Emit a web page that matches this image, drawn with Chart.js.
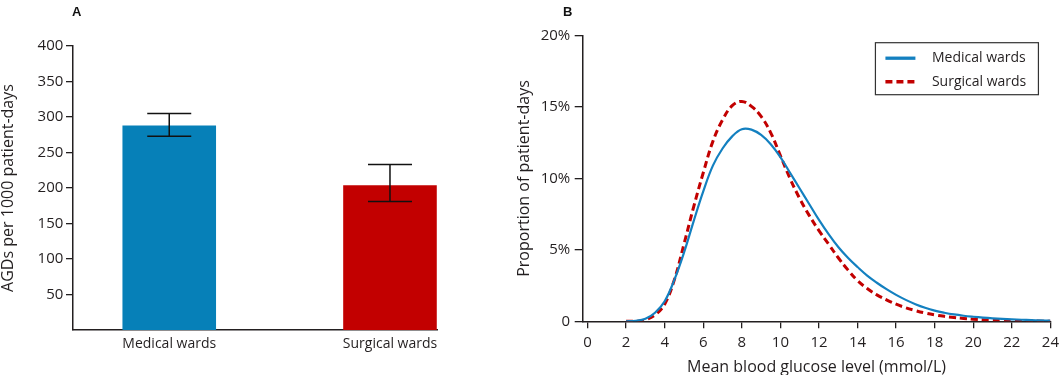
<!DOCTYPE html>
<html>
<head>
<meta charset="utf-8">
<script src="https://cdn.jsdelivr.net/npm/chart.js@4.4.1/dist/chart.umd.min.js"></script>
<style>
  html, body { margin: 0; padding: 0; background: #fff; }
  #wrap { position: relative; width: 1064px; height: 375px; overflow: hidden; }
  canvas { position: absolute; top: 0; }
  #chartA { left: 0; }
  #chartB { left: 470px; }
  .panel { position: absolute; top: 5px; font: bold 13px "Liberation Sans", Arial, sans-serif; line-height: 13px; color: #111; }
</style>
</head>
<body>
<div id="wrap">
  <canvas id="chartA" width="470" height="375"></canvas>
  <canvas id="chartB" width="594" height="375"></canvas>
  <div class="panel" style="left:72px">A</div>
  <div class="panel" style="left:563px">B</div>
</div>
<script>
// Panel A: AGDs per 1000 patient-days with error bars
const wards = ['Medical wards', 'Surgical wards'];
const agdRates = [288, 204];
const agdLower = [273, 181];
const agdUpper = [305, 233];
const yTicksA = [50, 100, 150, 200, 250, 300, 350, 400];

// Panel B: distribution of mean blood glucose (% of patient-days)
const glucose = [2, 2.5, 3, 3.5, 4, 4.5, 5, 5.5, 6, 6.5, 7, 7.5, 8, 8.5, 9, 9.5, 10, 10.5, 11, 11.5,
  12, 12.5, 13, 13.5, 14, 14.5, 15, 15.5, 16, 16.5, 17, 17.5, 18, 18.5, 19, 19.5, 20, 20.5,
  21, 21.5, 22, 22.5, 23, 23.5, 24];
const medicalPct = [0, 0.03, 0.18, 0.6, 1.4, 2.9, 4.8, 7.0, 9.1, 10.9, 12.1, 12.95, 13.45, 13.42, 13.05, 12.4, 11.5, 10.4, 9.3, 8.2,
  7.1, 6.1, 5.2, 4.45, 3.8, 3.2, 2.7, 2.25, 1.85, 1.5, 1.2, 0.95, 0.75, 0.6, 0.48, 0.39, 0.32, 0.26,
  0.21, 0.17, 0.14, 0.11, 0.08, 0.06, 0.05];
const surgicalPct = [0, 0, 0.1, 0.45, 1.2, 2.9, 5.4, 8.0, 10.4, 12.6, 14.1, 15.1, 15.4, 15.05, 14.35, 13.2, 11.6, 10.0, 8.6, 7.4,
  6.35, 5.4, 4.45, 3.6, 2.85, 2.3, 1.85, 1.5, 1.2, 0.95, 0.75, 0.58, 0.45, 0.35, 0.27, 0.2, 0.15, 0.11,
  0.08, 0.06, 0.04, 0.03, 0.02, 0.01, 0];
const xTicksB = [0, 2, 4, 6, 8, 10, 12, 14, 16, 18, 20, 22, 24];
const yTicksB = [0, 5, 10, 15, 20];

const blue = '#0680b8';
const red = '#c20000';
const ink = '#231f20';

Chart.defaults.font.family = "'Open Sans', sans-serif";
Chart.defaults.color = ink;
Chart.defaults.animation = false;

const errorBars = {
  id: 'errorBars',
  afterDatasetsDraw(chart) {
    const { ctx, scales: { x, y } } = chart;
    ctx.save();
    ctx.strokeStyle = '#111';
    ctx.lineWidth = 1.5;
    wards.forEach((w, i) => {
      const cx = x.getPixelForValue(i);
      const top = y.getPixelForValue(agdUpper[i]);
      const bot = y.getPixelForValue(agdLower[i]);
      ctx.beginPath();
      ctx.moveTo(cx, top); ctx.lineTo(cx, bot);
      ctx.moveTo(cx - 22, top); ctx.lineTo(cx + 22, top);
      ctx.moveTo(cx - 22, bot); ctx.lineTo(cx + 22, bot);
      ctx.stroke();
    });
    ctx.restore();
  }
};

new Chart(document.getElementById('chartA'), {
  type: 'bar',
  data: {
    datasets: [{
      data: wards.map((w, i) => ({ x: i, y: agdRates[i] })),
      backgroundColor: [blue, red],
      borderWidth: 0,
      categoryPercentage: 1,
      barPercentage: 0.424
    }]
  },
  options: {
    responsive: false,
    layout: { padding: { left: 0, right: 33, top: 46, bottom: 0 } },
    plugins: { legend: { display: false }, tooltip: { enabled: false } },
    scales: {
      x: {
        type: 'linear',
        min: -0.436,
        max: 1.213,
        offset: false,
        afterBuildTicks: s => { s.ticks = wards.map((w, i) => ({ value: i })); },
        afterFit: s => { s.height = 45; },
        grid: { display: true, drawOnChartArea: false, drawTicks: false, offset: false },
        border: { color: ink, width: 1.5 },
        ticks: { padding: 5.5, font: { size: 14 }, maxRotation: 0, autoSkip: false, callback: v => wards[v] }
      },
      y: {
        min: 0,
        max: 400,
        afterBuildTicks: s => { s.ticks = yTicksA.map(v => ({ value: v })); },
        afterFit: s => { s.width = 73; },
        grid: { drawOnChartArea: false, tickLength: 7, color: ink, lineWidth: 1.3 },
        border: { color: ink, width: 1.5 },
        ticks: { padding: 2.7, font: { size: 15 } },
        title: { display: true, text: 'AGDs per 1000 patient-days', font: { size: 16, lineHeight: 1 }, padding: 0 }
      }
    }
  },
  plugins: [errorBars]
});

const boxLegend = {
  id: 'boxLegend',
  afterDraw(chart) {
    const { ctx, chartArea } = chart;
    const w = 163, h = 52;
    const left = chartArea.right - 12 - w;
    const top = chartArea.top + 7;
    ctx.save();
    ctx.strokeStyle = '#333';
    ctx.lineWidth = 1.2;
    ctx.strokeRect(left, top, w, h);
    chart.data.datasets.forEach((ds, i) => {
      const yy = top + 15.5 + i * 23.5;
      ctx.beginPath();
      ctx.strokeStyle = ds.borderColor;
      ctx.lineWidth = i === 0 ? 3.3 : 3.6;
      ctx.setLineDash(ds.borderDash || []);
      ctx.moveTo(left + 10, yy);
      ctx.lineTo(left + 40, yy);
      ctx.stroke();
      ctx.setLineDash([]);
      ctx.fillStyle = ink;
      ctx.font = "14px 'Open Sans', sans-serif";
      ctx.textBaseline = 'middle';
      ctx.fillText(ds.label, left + 56.5, yy);
    });
    ctx.restore();
  }
};

new Chart(document.getElementById('chartB'), {
  type: 'line',
  data: {
    datasets: [
      {
        label: 'Medical wards',
        data: glucose.map((g, i) => ({ x: g, y: medicalPct[i] })),
        borderColor: '#1380c0',
        borderWidth: 2.2,
        pointRadius: 0,
        tension: 0.4
      },
      {
        label: 'Surgical wards',
        data: glucose.map((g, i) => ({ x: g, y: surgicalPct[i] })),
        borderColor: red,
        borderWidth: 3,
        borderDash: [7, 4],
        pointRadius: 0,
        tension: 0.4
      }
    ]
  },
  options: {
    responsive: false,
    layout: { padding: { left: 46, right: 11.7, top: 35.7, bottom: 0 } },
    plugins: { legend: { display: false }, tooltip: { enabled: false } },
    scales: {
      x: {
        type: 'linear',
        min: -0.25,
        max: 24,
        afterBuildTicks: s => { s.ticks = xTicksB.map(v => ({ value: v })); },
        afterFit: s => { s.height = 53.7; },
        grid: { drawOnChartArea: false, tickLength: 7, color: ink, lineWidth: 1.3 },
        border: { color: ink, width: 1.5 },
        ticks: { padding: 5, font: { size: 15 }, maxRotation: 0, autoSkip: false },
        title: { display: true, text: 'Mean blood glucose level (mmol/L)', font: { size: 16, lineHeight: 1 }, padding: 0 }
      },
      y: {
        min: 0,
        max: 20,
        afterBuildTicks: s => { s.ticks = yTicksB.map(v => ({ value: v })); },
        afterFit: s => { s.width = 66.7; },
        grid: { drawOnChartArea: false, tickLength: 8, color: ink, lineWidth: 1.3 },
        border: { color: ink, width: 1.5 },
        ticks: { padding: 4.5, font: { size: 15 }, callback: v => v === 0 ? '0' : v + '%' },
        title: { display: true, text: 'Proportion of patient-days', font: { size: 16, lineHeight: 1 }, padding: 0 }
      }
    }
  },
  plugins: [boxLegend]
});
</script>
</body>
</html>
